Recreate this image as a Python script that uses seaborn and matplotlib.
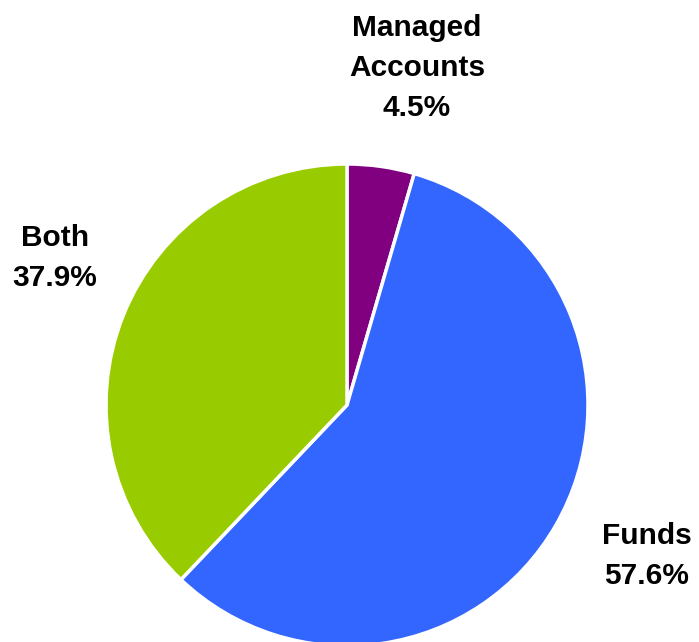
import matplotlib
matplotlib.use("Agg")
import matplotlib.pyplot as plt
import seaborn as sns

# Portfolio vehicle split
categories = ["Managed\nAccounts", "Funds", "Both"]
shares = [4.5, 57.6, 37.9]
colors = ["#800080", "#3366FF", "#99CC00"]

sns.set_theme(style="white")
plt.rcParams["font.family"] = ["Liberation Sans", "DejaVu Sans"]

W, H = 699, 642
fig = plt.figure(figsize=(W / 100, H / 100), dpi=100)
ax = fig.add_axes([0, 0, 1, 1])

cx, cy, r = 347, H - 405, 241
ax.pie(shares, colors=colors, startangle=90, counterclock=False,
       center=(cx, cy), radius=r, frame=True,
       wedgeprops=dict(edgecolor="white", linewidth=2.5))
ax.set_xlim(0, W)
ax.set_ylim(0, H)
ax.set_aspect("equal")
ax.axis("off")

label_pos = [(417, H - 68), (647, H - 556), (55, H - 258)]
for name, val, (x, y) in zip(categories, shares, label_pos):
    ax.text(x, y, f"{name}\n{val:.1f}%", ha="center", va="center",
            fontsize=21.5, fontweight="bold", color="black", linespacing=1.55)

fig.savefig("out.png", dpi=100)
